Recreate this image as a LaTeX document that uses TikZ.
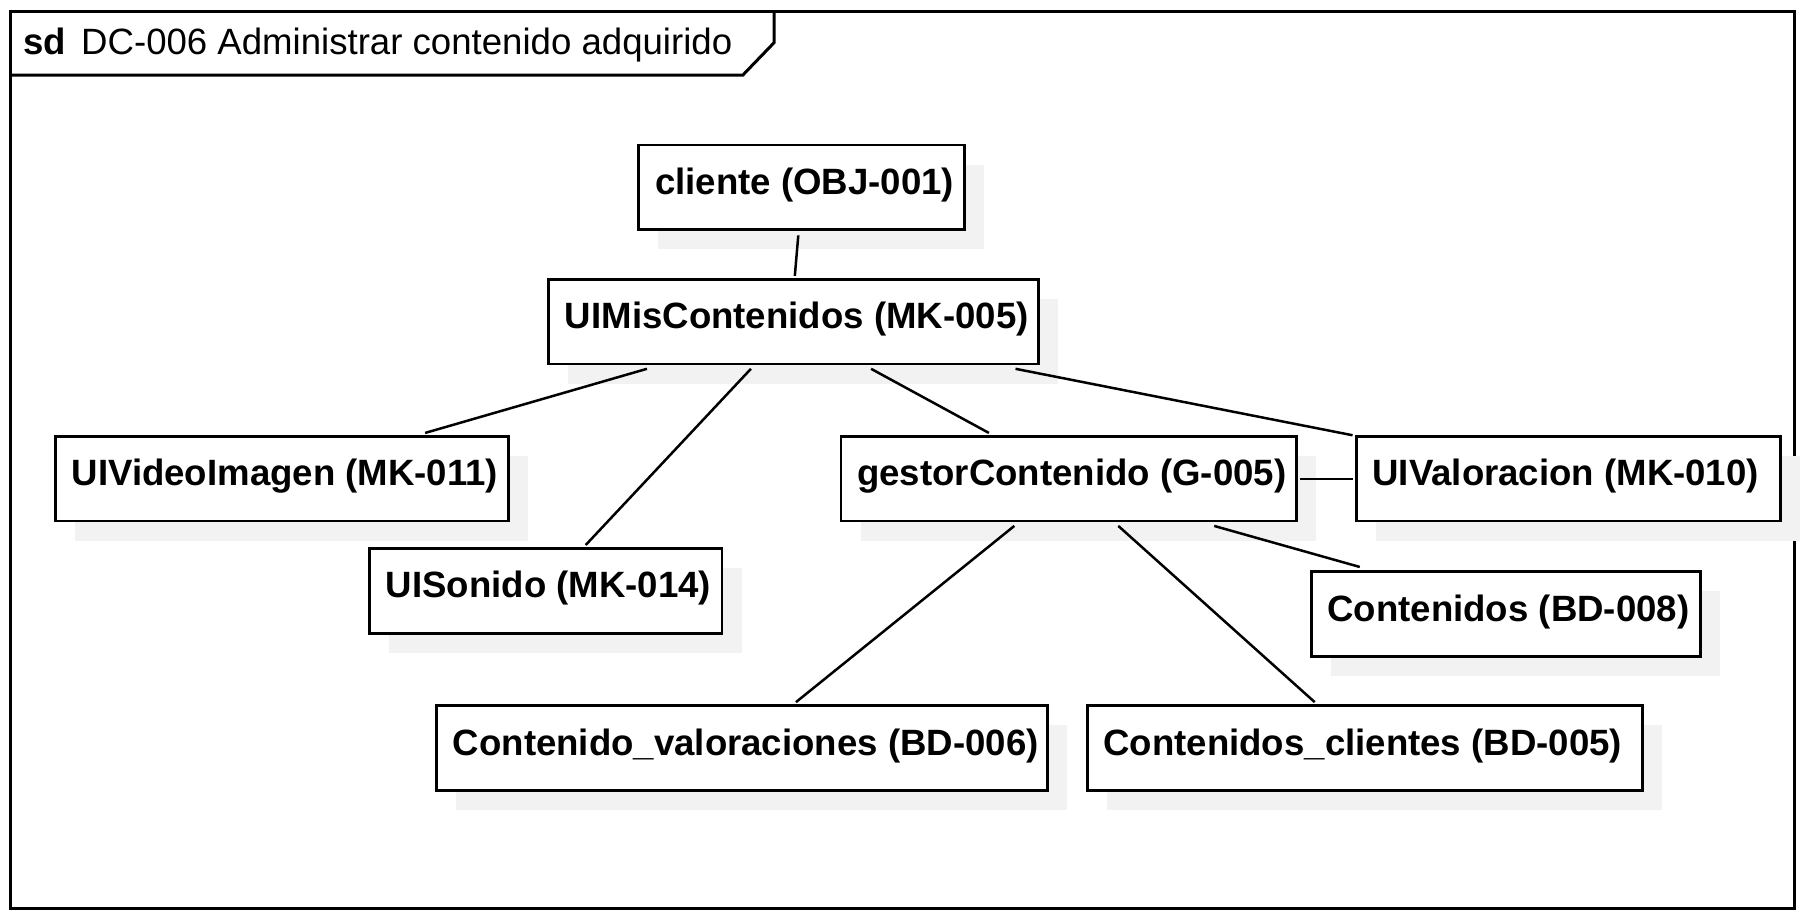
\documentclass[tikz,border=0pt]{standalone}
\usepackage{fontspec}
\setmainfont{Liberation Sans}
\usetikzlibrary{calc,shadows}
\begin{document}
\begin{tikzpicture}[x=0.5776pt,y=-0.5776pt,
  box/.style={draw, line width=1.4pt, fill=white, rectangle, inner xsep=8.1pt, inner ysep=0pt,
    minimum height=42.2pt, text height=13pt, text depth=6pt,
    font=\fontsize{18.3}{21}\selectfont\bfseries,
    drop shadow={shadow xshift=9.8pt, shadow yshift=-9.8pt, fill=black!5, opacity=1, draw=none}},
  conn/.style={line width=1.25pt}]
\useasboundingbox (0,0) rectangle (1565,799);
\draw[line width=1.5pt] (9,10) rectangle (1553,786);
\draw[line width=1.5pt] (9,65) -- (643,65) -- (670,37) -- (670,10);
\node[anchor=base west, inner sep=0pt, font=\fontsize{18.3}{21}\selectfont] (title) at (20,47)
  {\textbf{sd}\hspace{7.5pt}DC-006 Administrar contenido adquirido};

\node[box] (cliente) at (694,162) {\makebox[146.7pt][l]{cliente (OBJ-001)}};
\node[box] (uimis) at (687,278.5) {\makebox[228.7pt][l]{UIMisContenidos (MK-005)}};
\node[box] (uivideo) at (244,414.5) {\makebox[210.2pt][l]{UIVideoImagen (MK-011)}};
\node[box] (uisonido) at (472.5,511.5) {\makebox[160.0pt][l]{UISonido (MK-014)}};
\node[box] (gestor) at (925,414.5) {\makebox[211.4pt][l]{gestorContenido (G-005)}};
\node[box] (uival) at (1357.5,414.5) {\makebox[195.8pt][l]{UIValoracion (MK-010)}};
\node[box] (contenidos) at (1303.5,531.5) {\makebox[178.5pt][l]{Contenidos (BD-008)}};
\node[box] (contval) at (642.5,647.5) {\makebox[289.4pt][l]{Contenido\_valoraciones (BD-006)}};
\node[box] (contcli) at (1181.5,647.5) {\makebox[261.6pt][l]{Contenidos\_clientes (BD-005)}};

\draw[conn] ($(cliente.south)+(-3,4)$) -- ($(uimis.north)+(1,-2)$);
\draw[conn] ($(uimis.south)+(-127,3)$) -- ($(uivideo.north)+(124,-2)$);
\draw[conn] ($(uimis.south)+(-37,3)$) -- ($(uisonido.north)+(34.5,-2)$);
\draw[conn] ($(uimis.south)+(67,3)$) -- ($(gestor.north)+(-69,-2)$);
\draw[conn] ($(uimis.south)+(192,3)$) -- ($(uival.north west)+(-2,0)$);
\draw[conn] ($(gestor.east)+(2,0)$) -- ($(uival.west)+(-2,0)$);
\draw[conn] ($(gestor.south)+(126,3)$) -- ($(contenidos.north)+(-126.5,-3)$);
\draw[conn] ($(gestor.south)+(-47,3)$) -- ($(contval.north)+(46.5,-2)$);
\draw[conn] ($(gestor.south)+(43,3)$) -- ($(contcli.north)+(-43.5,-2)$);
\end{tikzpicture}
\end{document}
